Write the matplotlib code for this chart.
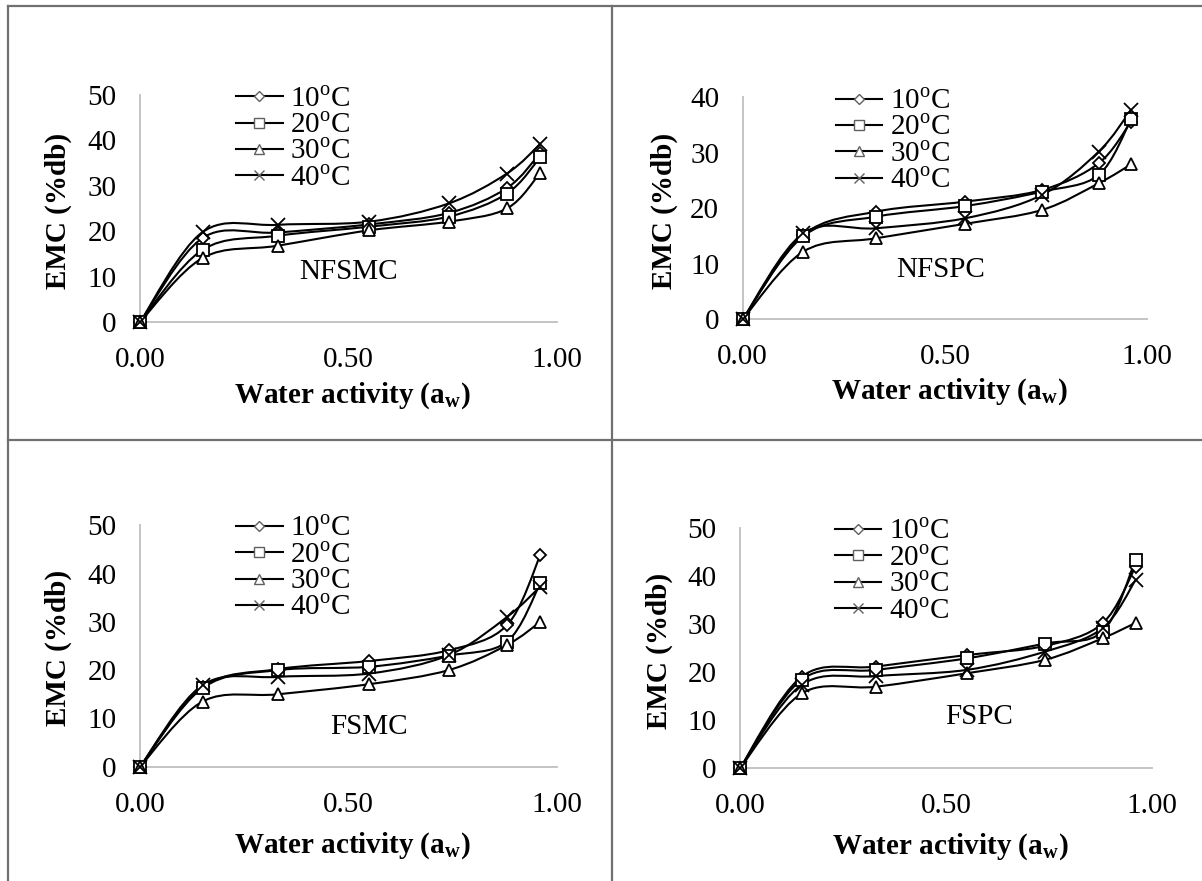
import numpy as np
import matplotlib
matplotlib.use('Agg')
import matplotlib.pyplot as plt
from matplotlib.path import Path
from matplotlib.patches import PathPatch
from matplotlib.lines import Line2D

plt.rcParams['font.family'] = 'Liberation Serif'
plt.rcParams['mathtext.fontset'] = 'custom'
plt.rcParams['mathtext.rm'] = 'Liberation Serif'
plt.rcParams['mathtext.bf'] = 'Liberation Serif:bold'

# water activity of the salt solutions
aw = [0.0, 0.15, 0.33, 0.55, 0.74, 0.88, 0.96]
temps = ['10', '20', '30', '40']

nfsmc_10 = [0, 18.5, 19.7, 21.5, 24.0, 29.5, 37.2]
nfsmc_20 = [0, 15.9, 19.0, 21.0, 23.2, 28.3, 36.3]
nfsmc_30 = [0, 14.1, 16.8, 20.2, 22.1, 25.0, 32.9]
nfsmc_40 = [0, 19.8, 21.4, 22.1, 26.1, 32.7, 39.2]

nfspc_10 = [0, 15.2, 19.4, 21.2, 23.3, 28.1, 35.6]
nfspc_20 = [0, 15.0, 18.5, 20.4, 23.0, 26.0, 36.0]
nfspc_30 = [0, 12.2, 14.6, 17.2, 19.7, 24.5, 27.9]
nfspc_40 = [0, 15.5, 16.4, 18.2, 22.4, 30.2, 37.7]

fsmc_10 = [0, 16.5, 20.2, 21.9, 24.1, 29.3, 43.8]
fsmc_20 = [0, 16.3, 20.0, 20.7, 23.0, 25.9, 38.0]
fsmc_30 = [0, 13.5, 15.0, 17.1, 20.0, 25.2, 30.0]
fsmc_40 = [0, 16.9, 18.6, 19.3, 23.1, 31.0, 37.3]

fspc_10 = [0, 19.1, 21.2, 23.6, 25.5, 30.2, 42.0]
fspc_20 = [0, 18.5, 20.5, 22.9, 26.0, 28.5, 43.4]
fspc_30 = [0, 15.6, 17.0, 19.8, 22.6, 27.1, 30.3]
fspc_40 = [0, 17.4, 19.2, 20.5, 24.3, 29.2, 39.2]

panels = [
    ('NFSMC', [nfsmc_10, nfsmc_20, nfsmc_30, nfsmc_40], 50, (0.50, 11.0)),
    ('NFSPC', [nfspc_10, nfspc_20, nfspc_30, nfspc_40], 40, (0.49, 8.9)),
    ('FSMC', [fsmc_10, fsmc_20, fsmc_30, fsmc_40], 50, (0.55, 8.3)),
    ('FSPC', [fspc_10, fspc_20, fspc_30, fspc_40], 50, (0.58, 10.7)),
]

# axes rectangles in figure fractions
rects = [
    [0.1165, 0.6345, 0.3469, 0.2577],
    [0.6179, 0.6376, 0.3365, 0.2520],
    [0.1165, 0.1297, 0.3469, 0.2741],
    [0.6156, 0.1279, 0.3428, 0.2724],
]

markers = [('D', 6.5), ('s', 8.5), ('^', 9), ('x', 9.5)]
GRID = '#bfbfbf'
FS = 21


def smooth_path(x, y):
    # Excel-like smoothed line through the points (Catmull-Rom bezier)
    pts = np.column_stack([x, y]).astype(float)
    verts = [pts[0]]
    codes = [Path.MOVETO]
    n = len(pts)
    for i in range(n - 1):
        p0 = pts[i - 1] if i > 0 else pts[i]
        p1 = pts[i]
        p2 = pts[i + 1]
        p3 = pts[i + 2] if i + 2 < n else pts[i + 1]
        verts += [p1 + (p2 - p0) / 6, p2 - (p3 - p1) / 6, p2]
        codes += [Path.CURVE4] * 3
    return Path(verts, codes)


fig = plt.figure(figsize=(12.02, 8.81), dpi=100)

for (name, series, ymax, txt), rect in zip(panels, rects):
    ax = fig.add_axes(rect)
    for ys, (m, ms) in zip(series, markers):
        ax.add_patch(PathPatch(smooth_path(aw, ys), facecolor='none',
                               edgecolor='black', lw=1.5, zorder=2))
        ax.plot(aw, ys, linestyle='none', marker=m, ms=ms, mfc='white',
                mec='black', mew=1.3, zorder=3, clip_on=False)
    ax.set_xlim(0, 1)
    ax.set_ylim(0, ymax)
    ax.set_xticks([0, 0.5, 1.0])
    ax.set_xticklabels(['0.00', '0.50', '1.00'])
    ax.set_yticks(np.arange(0, ymax + 1, 10))
    ax.tick_params(axis='x', length=0, labelsize=FS, pad=18)
    ax.tick_params(axis='y', length=0, labelsize=FS, pad=17)
    for s in ['top', 'right']:
        ax.spines[s].set_visible(False)
    for s in ['left', 'bottom']:
        ax.spines[s].set_color(GRID)
        ax.spines[s].set_linewidth(1.3)
    ax.text(txt[0], txt[1], name, fontsize=FS, ha='center', va='center')
    ax.text(-0.195, 0.49, 'EMC (%db)', rotation=90, fontsize=FS, fontweight='bold',
            ha='center', va='center', transform=ax.transAxes)
    ax.text(0.51, -0.325, r'Water activity (a$_\mathbf{w}$)', fontsize=FS,
            fontweight='bold', ha='center', va='center', transform=ax.transAxes)

    handles = [Line2D([], [], color='black', lw=1.5, marker=m, ms=ms * 0.8,
                      mfc='white', mec='#606060', mew=1.0)
               for (m, ms) in markers]
    labels = [t + r'$^{\rm o}$C' for t in temps]
    ax.legend(handles, labels, loc='upper left', bbox_to_anchor=(0.23, 1.04),
              frameon=False, fontsize=FS, handlelength=1.6, handletextpad=0.25,
              labelspacing=0.0, borderpad=0, borderaxespad=0)

# panel frame lines
W, H = 1202, 881
col = '#707070'
for (x0, y0, x1, y1) in [(8, 6, W, 6), (8, 6, 8, H), (612, 6, 612, H), (8, 440, W, 440)]:
    fig.add_artist(Line2D([x0 / W, x1 / W], [1 - y0 / H, 1 - y1 / H],
                          color=col, lw=1.6, transform=fig.transFigure))

fig.savefig('out.png', dpi=100)
